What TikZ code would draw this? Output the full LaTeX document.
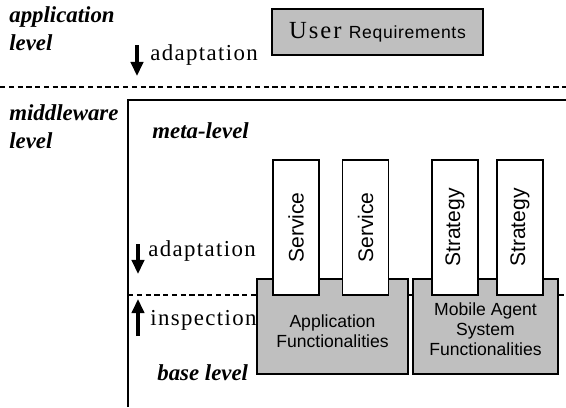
\documentclass[tikz,border=0pt]{standalone}
\usepackage{fontspec}
\setmainfont{Liberation Serif}
\setsansfont{Liberation Sans}
\usetikzlibrary{arrows.meta}

\begin{document}
\begin{tikzpicture}[x=0.02cm, y=-0.02cm,
  lvl/.style={font=\fontsize{13}{16}\selectfont\bfseries\itshape, align=left, inner sep=0pt},
  act/.style={font=\fontsize{13}{15}\selectfont\addfontfeatures{LetterSpace=6}, inner sep=0pt},
  flow/.style={-{Triangle[length=8pt,width=7pt]}, line width=1.8pt},
  sep/.style={dash pattern=on 3pt off 2pt, line width=0.6pt},
  grey/.style={draw, fill=black!25, line width=0.8pt, minimum width=3.02cm, minimum height=1.9cm, inner sep=0pt},
  comp/.style={draw, fill=white, line width=0.8pt, rotate=90, minimum width=2.7cm, minimum height=0.92cm,
               font=\sffamily\fontsize{12}{12}\selectfont},
  func/.style={align=center, font=\sffamily\fontsize{10}{11.5}\selectfont, inner sep=0pt}]
 \useasboundingbox (0,0) rectangle (566,407);

 % levels and separators
 \coordinate (l1) at (0,87);   \coordinate (r1) at (566,87);
 \coordinate (l2) at (128,295); \coordinate (r2) at (566,295);
 \coordinate (fb) at (128,407); \coordinate (fr) at (566,100);
 \draw [sep] (l1) -- (r1);
 \draw [sep] (l2) -- (r2);
 \draw [line width=0.6pt] (fb) |- (fr);

 \node (app)  [lvl, anchor=north west] at (9,6)   {application\\level};
 \node (mid)  [lvl, anchor=north west] at (9,104) {middleware\\level};
 \node (meta) [lvl, anchor=base west]  at (152,138) {meta-level};
 \node (base) [lvl, anchor=base west]  at (157,380) {base level};

 % user requirements
 \node (user) [draw, fill=black!25, line width=0.8pt, minimum width=4.22cm, minimum height=0.92cm] at (377.5,32)
   {{\fontsize{14}{14}\selectfont\addfontfeatures{LetterSpace=8}User}\,
    {\sffamily\fontsize{10}{10}\selectfont\addfontfeatures{LetterSpace=4}Requirements}};

 % base level functionalities
 \node (appbox) [grey] at (332.5,326.5) {};
 \node (mabox)  [grey, minimum width=2.9cm] at (485.5,326.5) {};
 \node (appfun) [func] at (332.5,331) {Application\\Functionalities};
 \node (mafun)  [func] at (485.5,329) {Mobile Agent\\System\\Functionalities};

 % meta level components
 \node (srv1) [comp] at (296,227.5) {Service};
 \node (srv2) [comp] at (365.5,227.5) {Service};
 \node (str1) [comp] at (455,227.5) {Strategy};
 \node (str2) [comp] at (520,227.5) {Strategy};

 % adaptation / inspection
 \coordinate (a1) at (137,45);  \coordinate (a2) at (137,76);
 \coordinate (b1) at (138,244); \coordinate (b2) at (138,274);
 \coordinate (c1) at (138,336); \coordinate (c2) at (138,299);
 \draw [flow] (a1) -- (a2);
 \draw [flow] (b1) -- (b2);
 \draw [flow] (c1) -- (c2);
 \node (adapt1)  [act, anchor=base west] at (150,60)  {adaptation};
 \node (adapt2)  [act, anchor=base west] at (148,256) {adaptation};
 \node (inspect) [act, anchor=base west] at (150,325) {inspection};
\end{tikzpicture}
\end{document}
